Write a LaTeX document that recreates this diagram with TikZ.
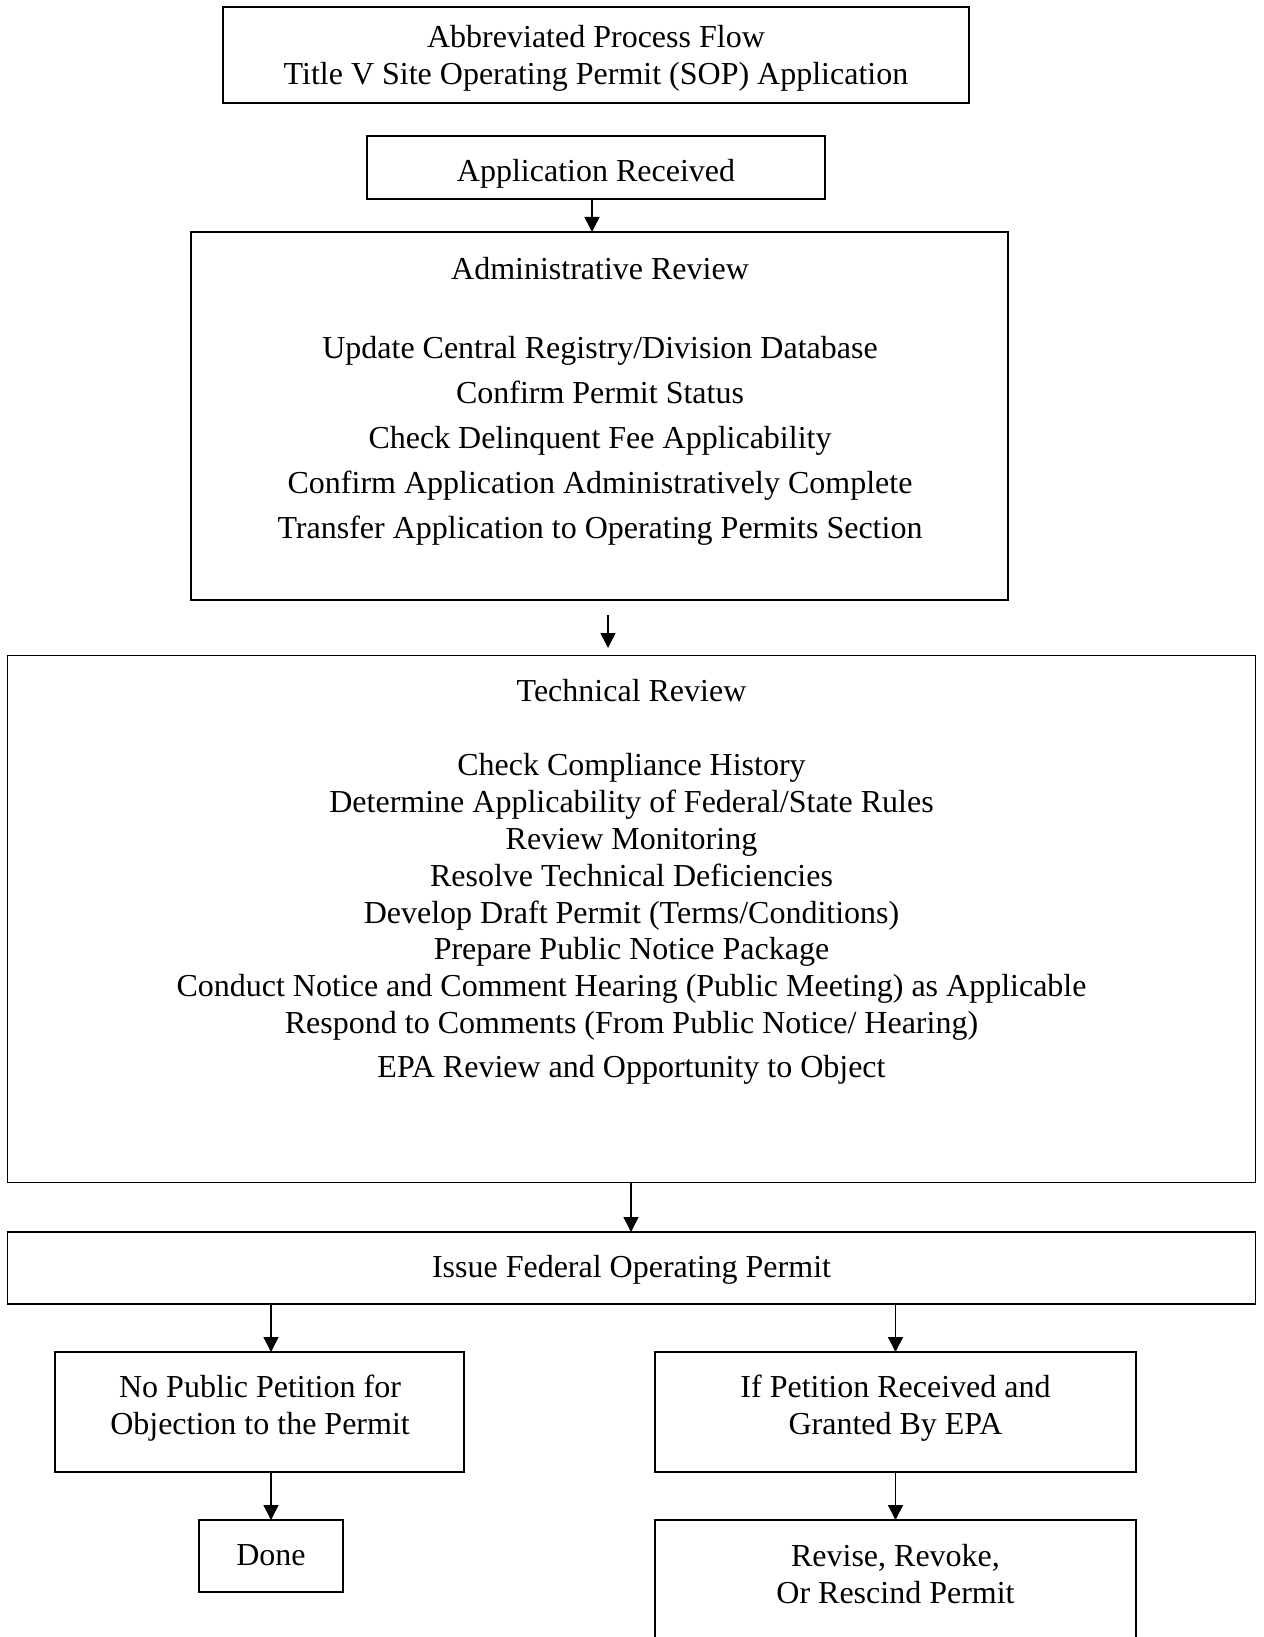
\documentclass[tikz,border=0pt]{standalone}
\usepackage{fontspec}
\setmainfont{Liberation Serif}
\usetikzlibrary{arrows.meta}
\begin{document}
\begin{tikzpicture}[x=1pt,y=-1pt,
  box/.style={draw,line width=1.9pt,inner sep=0pt,outer sep=0pt},
  txt/.style={font=\fontsize{32}{36.8}\selectfont,align=center,inner sep=0pt},
  arr/.style={line width=1.5pt,-{Triangle[length=15pt,width=15pt]}}]
\clip (0,0) rectangle (1263,1637);
\fill[white] (0,0) rectangle (1263,1637);
% boxes
\node[box,minimum width=746,minimum height=96] (title) at (596,55) {};
\node[box,minimum width=458,minimum height=63] (recv) at (596,167.5) {};
\node[box,minimum width=817,minimum height=368] (adm) at (599.5,416) {};
\node[box,minimum width=1248,minimum height=527] (tech) at (631.5,919) {};
\node[box,minimum width=1248,minimum height=72] (issue) at (631.5,1268) {};
\node[box,minimum width=409,minimum height=120] (nopub) at (259.5,1412) {};
\node[box,minimum width=481,minimum height=120] (ifpet) at (895.5,1412) {};
\node[box,minimum width=144,minimum height=72] (done) at (271,1556) {};
\node[box,minimum width=481,minimum height=150] (revise) at (895.5,1595) {};
% texts
\node[txt] (titletxt) at (596,58) {Abbreviated Process Flow\\Title V Site Operating Permit (SOP) Application};
\node[txt] (recvtxt) at (596,174) {Application Received};
\node[txt] (admtitle) at (600,269) {Administrative Review};
\node[txt,font=\fontsize{32}{44.9}\selectfont] (admtxt) at (600,441) {Update Central Registry/Division Database\\Confirm Permit Status\\Check Delinquent Fee Applicability\\Confirm Application Administratively Complete\\Transfer Application to Operating Permits Section};
\node[txt] (techtitle) at (631.5,691) {Technical Review};
\node[txt] (techtxt) at (631.5,897) {Check Compliance History\\Determine Applicability of Federal/State Rules\\Review Monitoring\\Resolve Technical Deficiencies\\Develop Draft Permit (Terms/Conditions)\\Prepare Public Notice Package\\Conduct Notice and Comment Hearing (Public Meeting) as Applicable\\Respond to Comments (From Public Notice/ Hearing)};
\node[txt] (techlast) at (631.5,1070) {EPA Review and Opportunity to Object};
\node[txt] (issuetxt) at (631.5,1270) {Issue Federal Operating Permit};
\node[txt] (nopubtxt) at (260,1408) {No Public Petition for\\Objection to the Permit};
\node[txt] (ifpettxt) at (895.5,1408) {If Petition Received and\\Granted By EPA};
\node[txt] (donetxt) at (271,1555) {Done};
\node[txt] (revisetxt) at (895.5,1574) {Revise, Revoke,\\Or Rescind Permit};
% connectors
\draw[arr] (recv.south -| 592,0) -- (adm.north -| 592,0);
\coordinate (fa) at (608,615);
\coordinate (fb) at (608,648);
\draw[arr] (fa) -- (fb);
\draw[arr] (tech.south -| 631,0) -- (issue.north -| 631,0);
\draw[arr] (issue.south -| done.north) -- (nopub.north -| done.north);
\draw[arr] (issue.south -| ifpet.north) -- (ifpet.north);
\draw[arr] (nopub.south -| done.north) -- (done.north);
\draw[arr] (ifpet.south) -- (revise.north);
\end{tikzpicture}
\end{document}
